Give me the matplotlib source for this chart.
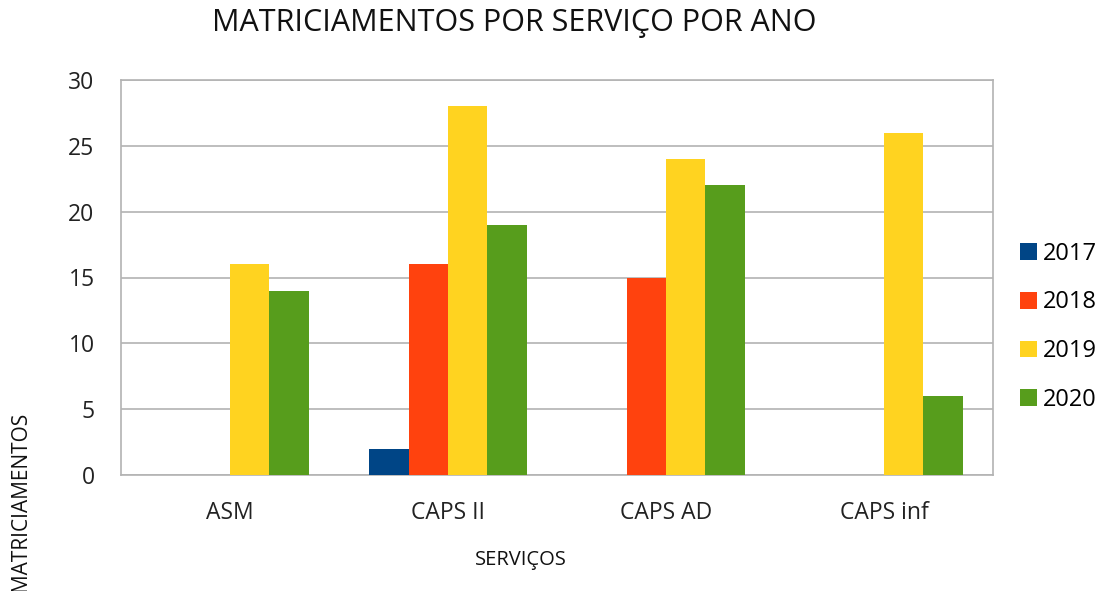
import matplotlib.pyplot as plt
import numpy as np

plt.rcParams['font.family'] = ['Open Sans', 'DejaVu Sans']

servicos = ['ASM', 'CAPS II', 'CAPS AD', 'CAPS inf']
anos = ['2017', '2018', '2019', '2020']
v2017 = [0, 2, 0, 0]
v2018 = [0, 16, 15, 0]
v2019 = [16, 28, 24, 26]
v2020 = [14, 19, 22, 6]
cores = ['#004586', '#ff420e', '#ffd320', '#579d1c']

fig = plt.figure(figsize=(11.05, 5.91), dpi=100)
ax = fig.add_axes([121 / 1105, 1 - 475 / 591, (993 - 121) / 1105, (475 - 80) / 591])

x = np.arange(len(servicos))
w = 0.181
series = [v2017, v2018, v2019, v2020]
for i, (vals, ano, c) in enumerate(zip(series, anos, cores)):
    ax.bar(x + (i - 1.5) * w, vals, w, color=c, label=ano, zorder=3)

ax.set_xlim(-0.5, 3.5)
ax.set_ylim(0, 30)
ax.set_yticks(range(0, 31, 5))
ax.set_xticks(x)
ax.set_xticklabels(servicos)
ax.grid(axis='y', color='#b3b3b3', linewidth=1.2, zorder=0)
for s in ax.spines.values():
    s.set_color('#b3b3b3')
    s.set_linewidth(1.2)
ax.tick_params(axis='both', length=0, labelsize=16.5, colors='#222222')
ax.tick_params(axis='x', pad=19)
ax.tick_params(axis='y', pad=19)

fig.text(514 / 1105, 1 - 23 / 591, 'MATRICIAMENTOS POR SERVIÇO POR ANO', ha='center', va='center',
         fontsize=22, color='#111111')
fig.text(521 / 1105, 1 - 560 / 591, 'SERVIÇOS', ha='center', va='center', fontsize=14.5,
         color='#111111')
fig.text(20 / 1105, 1 - 412 / 591, 'MATRICIAMENTOS', ha='center', va='top', rotation=90,
         fontsize=15, color='#111111')

leg = ax.legend(loc='center left', bbox_to_anchor=(1.031, 0.375), frameon=False, fontsize=17,
                handlelength=0.72, handleheight=0.72, handletextpad=0.25, labelspacing=1.05,
                borderaxespad=0, borderpad=0)

fig.savefig('out.png', dpi=100)
